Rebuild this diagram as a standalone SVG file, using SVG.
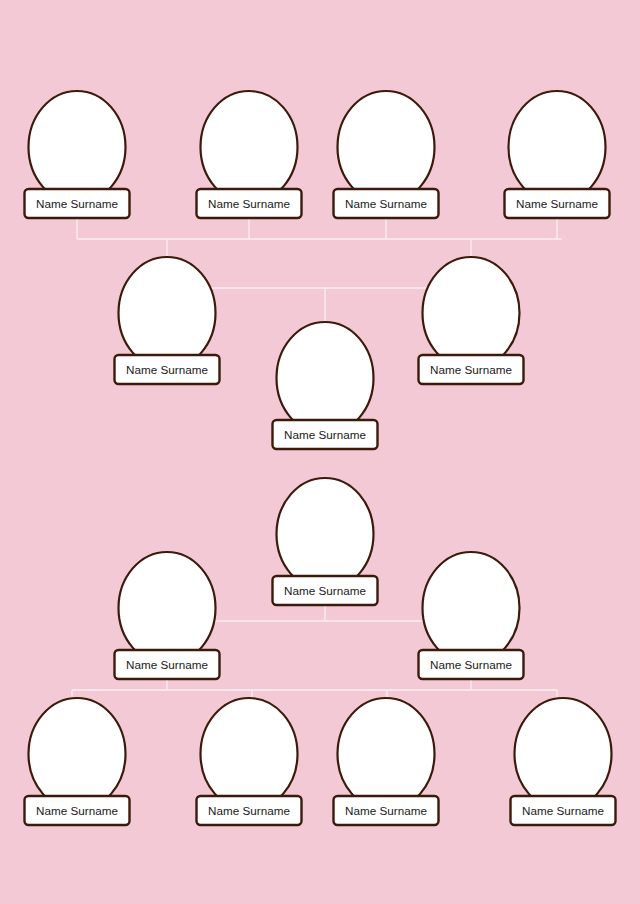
<svg xmlns="http://www.w3.org/2000/svg" width="640" height="904" viewBox="0 0 640 904">
<style>
.ph{fill:#ffffff;stroke:#3b1a0c;stroke-width:2.2}
.bx{fill:#ffffff;stroke:#3b1a0c;stroke-width:2.4}
.t{font-family:"Liberation Sans",Arial,sans-serif;font-size:11.7px;fill:#1a1a1a;text-anchor:middle}
.c{stroke:#fbf0f3;stroke-width:1.3;fill:none}
</style>
<defs>
<g id="person">
<ellipse class="ph" cx="0" cy="56" rx="48.5" ry="56"/>
<rect class="bx" x="-52.5" y="98" width="105" height="29" rx="4"/>
<text class="t" x="0" y="117">Name Surname</text>
</g>
</defs>
<rect width="640" height="904" fill="#f2c9d5"/>
<g id="connectors">
<path class="c" d="M77 218V239M249 218V239M386 218V239M557 218V239M77 239H562M167 239V257M471 239V257"/>
<path class="c" d="M167 288H471M325 288V322"/>
<path class="c" d="M325 605V621M167 621H471M167 679V690M471 679V690M72 690H557M72 690V698M252 690V698M387 690V698M557 690V698"/>
</g>
<g id="n1"><use href="#person" x="77" y="91"/></g>
<g id="n2"><use href="#person" x="249" y="91"/></g>
<g id="n3"><use href="#person" x="386" y="91"/></g>
<g id="n4"><use href="#person" x="557" y="91"/></g>
<g id="n5"><use href="#person" x="167" y="257"/></g>
<g id="n6"><use href="#person" x="471" y="257"/></g>
<g id="n7"><use href="#person" x="325" y="322"/></g>
<g id="n8"><use href="#person" x="325" y="478"/></g>
<g id="n9"><use href="#person" x="167" y="552"/></g>
<g id="n10"><use href="#person" x="471" y="552"/></g>
<g id="n11"><use href="#person" x="77" y="698"/></g>
<g id="n12"><use href="#person" x="249" y="698"/></g>
<g id="n13"><use href="#person" x="386" y="698"/></g>
<g id="n14"><use href="#person" x="563" y="698"/></g>
</svg>
